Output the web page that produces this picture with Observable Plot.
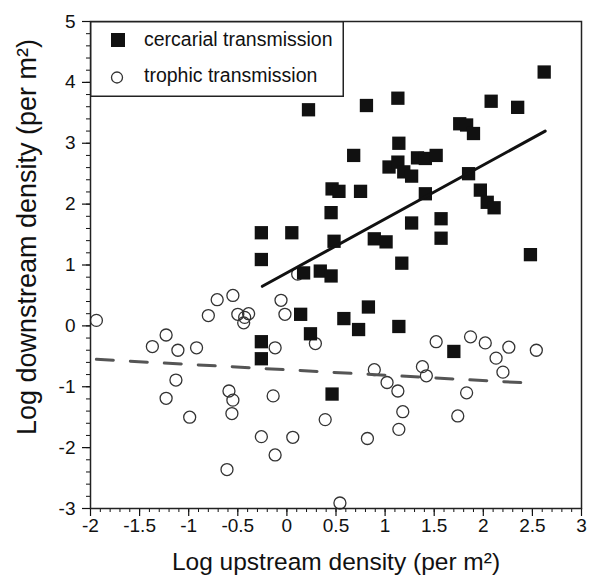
<!DOCTYPE html>
<html>
<head>
<meta charset="utf-8">
<script src="https://cdn.jsdelivr.net/npm/d3@7"></script>
<script src="https://cdn.jsdelivr.net/npm/@observablehq/plot@0.6"></script>
<style>
  html, body { margin: 0; padding: 0; background: #fff; }
  #wrap { position: relative; width: 600px; height: 582px; font-family: "Liberation Sans", Arial, Helvetica, sans-serif; }
  #legend { position: absolute; left: 90px; top: 21px; width: 254px; height: 76px; }
</style>
</head>
<body>
<div id="wrap"></div>
<script>
// Cercarial transmission (filled squares)
const cercX = [2.62, 0.22, 0.81, 1.13, 2.08, 2.35, 1.76, 1.83, 1.90, 1.14, 0.68, 1.04, 1.13, 1.19, 1.27, 1.33, 1.41, 1.52, 1.85, 0.46, 0.53, 0.75, 1.41, 1.97, 2.04, 2.11, 0.45, -0.26, 0.05, 1.57, 1.27, 1.57, 0.48, 0.89, 1.01, -0.26, 1.17, 2.48, 0.17, 0.34, 0.45, 0.14, 0.83, 0.58, 0.73, 1.14, 0.24, -0.26, -0.26, 1.70, 0.46];
const cercY = [4.17, 3.55, 3.62, 3.74, 3.69, 3.59, 3.32, 3.30, 3.16, 3.00, 2.80, 2.61, 2.69, 2.53, 2.46, 2.76, 2.75, 2.80, 2.50, 2.25, 2.21, 2.21, 2.17, 2.23, 2.03, 1.94, 1.86, 1.53, 1.53, 1.76, 1.69, 1.44, 1.39, 1.43, 1.38, 1.09, 1.03, 1.17, 0.87, 0.90, 0.82, 0.19, 0.31, 0.12, -0.06, -0.01, -0.13, -0.26, -0.54, -0.42, -1.12];
// Trophic transmission (open circles)
const trophX = [-1.94, -1.37, -1.23, -1.11, -0.92, -0.80, -0.71, -0.55, -0.50, -0.43, -0.44, -0.39, -0.06, -0.02, -0.12, 0.11, 0.29, 1.52, 1.87, 2.02, 2.26, 2.13, 2.54, 2.20, 0.89, 1.02, 1.13, 1.38, 1.42, 1.83, -1.13, -1.23, -0.59, -0.55, -0.56, -0.14, -0.99, 0.39, 1.18, 1.14, 1.74, -0.26, 0.06, -0.12, 0.82, -0.61, 0.54];
const trophY = [0.09, -0.34, -0.15, -0.40, -0.36, 0.17, 0.43, 0.50, 0.19, 0.14, 0.05, 0.20, 0.42, 0.19, -0.36, 0.85, -0.29, -0.26, -0.18, -0.28, -0.35, -0.53, -0.40, -0.76, -0.72, -0.93, -1.07, -0.67, -0.82, -1.10, -0.89, -1.19, -1.07, -1.22, -1.44, -1.15, -1.50, -1.54, -1.41, -1.70, -1.48, -1.82, -1.83, -2.12, -1.85, -2.36, -2.91];
// Regression lines (end points)
const cercFitX = [-0.25, 2.63];
const cercFitY = [0.65, 3.20];
const trophFitX = [-1.94, 2.47];
const trophFitY = [-0.55, -0.94];
// Axis ticks
const xTicks = [-2, -1.5, -1, -0.5, 0, 0.5, 1, 1.5, 2, 2.5, 3];
const yTicks = [-3, -2, -1, 0, 1, 2, 3, 4, 5];
const xLabel = "Log upstream density (per m²)";
const yLabel = "Log downstream density (per m²)";
const legendLabels = ["cercarial transmission", "trophic transmission"];

const xMinor = d3.range(-20, 31).map(d => d / 10);
const yMinor = d3.range(-15, 26).map(d => d / 5);

const cerc = cercX.map((x, i) => ({x, y: cercY[i]}));
const troph = trophX.map((x, i) => ({x, y: trophY[i]}));
const cercFit = cercFitX.map((x, i) => ({x, y: cercFitY[i]}));
const trophFit = trophFitX.map((x, i) => ({x, y: trophFitY[i]}));

const chart = Plot.plot({
  width: 600,
  height: 582,
  marginLeft: 90,
  marginRight: 19,
  marginTop: 21,
  marginBottom: 74,
  style: {fontFamily: '"Liberation Sans", Arial, Helvetica, sans-serif', background: "white", color: "#111"},
  x: {domain: [-2, 3]},
  y: {domain: [-3, 5]},
  marks: [
    Plot.axisX({ticks: xMinor, tickSize: 4, tickFormat: () => "", label: null, strokeWidth: 1}),
    Plot.axisY({ticks: yMinor, tickSize: 4, tickFormat: () => "", label: null, strokeWidth: 1}),
    Plot.axisX({ticks: xTicks, tickSize: 8, tickPadding: 2, fontSize: 19, label: null, strokeWidth: 1.2, tickFormat: d => String(d)}),
    Plot.axisY({ticks: yTicks, tickSize: 8, tickPadding: 7, fontSize: 19, label: null, strokeWidth: 1.2, tickFormat: d => String(d)}),
    Plot.dot(troph, {x: "x", y: "y", r: 6, stroke: "#333", strokeWidth: 1.3, fill: "none"}),
    Plot.dot(cerc, {x: "x", y: "y", symbol: "square", r: 7.5, fill: "#111", stroke: "none"}),
    Plot.line(cercFit, {x: "x", y: "y", stroke: "#111", strokeWidth: 3}),
    Plot.line(trophFit, {x: "x", y: "y", stroke: "#555", strokeWidth: 3, strokeDasharray: "17,17"}),
    Plot.frame({stroke: "#222", strokeWidth: 1.5}),
    Plot.text([xLabel], {frameAnchor: "bottom", textAnchor: "middle", dy: 54, lineAnchor: "middle", fontSize: 24.5, fill: "#111"}),
    Plot.text([yLabel], {frameAnchor: "left", textAnchor: "middle", rotate: -90, dx: -63, dy: -28, lineAnchor: "middle", fontSize: 27, fill: "#111"})
  ]
});

const wrap = document.getElementById("wrap");
wrap.appendChild(chart);

// Legend box
const legend = document.createElement("div");
legend.id = "legend";
legend.innerHTML = `
<svg width="254" height="76" xmlns="http://www.w3.org/2000/svg" style="display:block">
  <rect x="0.75" y="0.75" width="252.5" height="74.5" fill="white" stroke="#222" stroke-width="1.5"/>
  <rect x="21" y="12" width="14" height="14" fill="#111"/>
  <circle cx="27" cy="56.5" r="5.5" fill="none" stroke="#333" stroke-width="1.3"/>
  <text x="54" y="25" font-size="19.5" fill="#111" font-family="Liberation Sans, Arial, sans-serif">${legendLabels[0]}</text>
  <text x="54" y="61" font-size="19.5" fill="#111" font-family="Liberation Sans, Arial, sans-serif">${legendLabels[1]}</text>
</svg>`;
wrap.appendChild(legend);
</script>
</body>
</html>
